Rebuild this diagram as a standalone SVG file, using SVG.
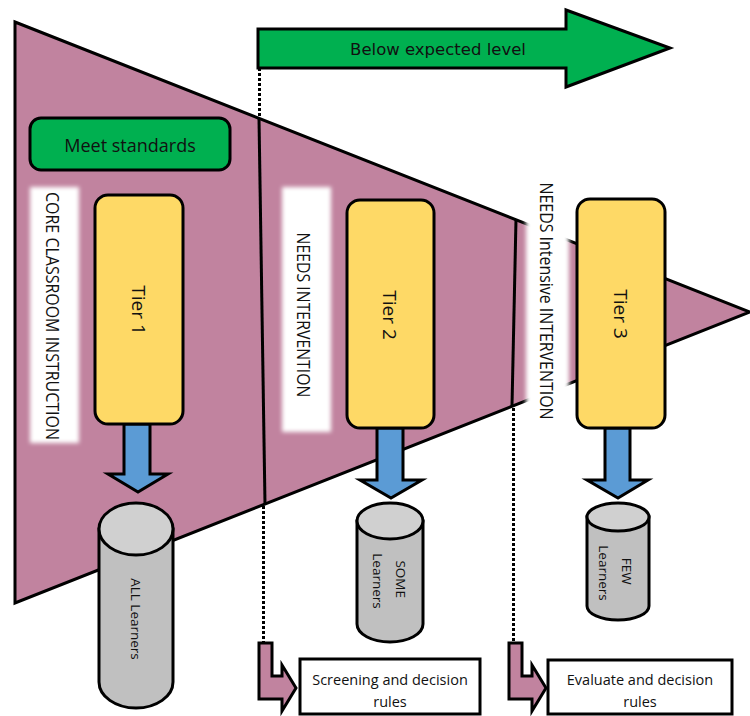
<svg xmlns="http://www.w3.org/2000/svg" width="750" height="716" viewBox="0 0 750 716">
  <style>
    .ln { stroke: #000; stroke-width: 3; stroke-linejoin: miter; }
    .dot { stroke: #000; stroke-width: 3; stroke-dasharray: 3 2; fill: none; }
    .pink { fill: #C1839F; }
    .green { fill: #00B050; }
    .tier { fill: #FED966; stroke: #000; stroke-width: 3; }
    .blue { fill: #5B9BD5; stroke: #000; stroke-width: 3; }
    .cylb { fill: #C0C0C0; stroke: #000; stroke-width: 3; }
    .cylt { fill: #D0D0D0; stroke: #000; stroke-width: 3; }
    .box { fill: #fff; stroke: #000; stroke-width: 3; }
    .t { font-family: "Open Sans", "Noto Sans", sans-serif; fill: #111; text-anchor: middle; dominant-baseline: central; }
    .dv { font-family: "DejaVu Sans", sans-serif; fill: #111; text-anchor: middle; dominant-baseline: central; }
  </style>
  <defs>
    <filter id="soft" x="-30%" y="-10%" width="160%" height="120%">
      <feGaussianBlur stdDeviation="2.2"/>
    </filter>
  </defs>

  <!-- funnel -->
  <g id="funnel">
    <polygon class="pink ln" points="15,22 750,312 15,603"/>
  </g>

  <!-- tier boundaries and dotted guides -->
  <g id="connectors">
    <line class="ln" x1="259" y1="118" x2="265" y2="504"/>
    <line class="ln" x1="516" y1="219" x2="512" y2="406"/>
    <line class="dot" x1="259.5" y1="68" x2="259.5" y2="118"/>
    <line class="dot" x1="263.5" y1="506" x2="263.5" y2="643"/>
    <line class="dot" x1="513.5" y1="408" x2="513.5" y2="643"/>
    <path class="pink ln" d="M259,643 H272 V676 H282 V665 L296,688 L282,711 V699 H259 Z"/>
    <path class="pink ln" d="M509,643 H522 V676 H532 V665 L546,688 L532,711 V699 H509 Z"/>
    <!-- down arrows -->
    <path class="blue" d="M124,424 H150 V474 H168 L138,492 L108,474 H124 Z"/>
    <path class="blue" d="M377,428 H403 V480 H422 L391,498 L360,480 H377 Z"/>
    <path class="blue" d="M605,428 H630 V480 H648 L618,498 L587,480 H605 Z"/>
  </g>

  <g id="below-level">
    <path class="green ln" d="M258,29 H566 V10 L670,48 L566,87 V68 H258 Z"/>
    <text class="dv" x="438" y="49" font-size="16.5">Below expected level</text>
  </g>

  <g id="meet-standards">
    <rect class="green ln" x="30" y="118" width="200" height="52" rx="11"/>
    <text class="t" x="130" y="145" font-size="18">Meet standards</text>
  </g>

  <g id="label-core">
    <rect x="30" y="187" width="49" height="256" fill="#fff" filter="url(#soft)"/>
    <text class="t" transform="translate(53,316) rotate(90)" font-size="19" textLength="248" lengthAdjust="spacingAndGlyphs">CORE CLASSROOM INSTRUCTION</text>
  </g>

  <g id="label-needs">
    <rect x="282" y="187" width="49" height="245" fill="#fff" filter="url(#soft)"/>
    <text class="t" transform="translate(304,315) rotate(90)" font-size="19" textLength="165" lengthAdjust="spacingAndGlyphs">NEEDS INTERVENTION</text>
  </g>

  <g id="label-intensive">
    <rect x="526" y="175" width="43" height="258" fill="#fff" filter="url(#soft)"/>
    <text class="t" transform="translate(547,301) rotate(90)" font-size="19" textLength="237" lengthAdjust="spacingAndGlyphs">NEEDS Intensive INTERVENTION</text>
  </g>

  <g id="tier1">
    <rect class="tier" x="95" y="195" width="88" height="229" rx="13"/>
    <text class="t" transform="translate(139,310) rotate(90)" font-size="19">Tier 1</text>
  </g>
  <g id="tier2">
    <rect class="tier" x="347" y="200" width="87" height="228" rx="13"/>
    <text class="t" transform="translate(390,315) rotate(90)" font-size="19">Tier 2</text>
  </g>
  <g id="tier3">
    <rect class="tier" x="577" y="199" width="88" height="229" rx="13"/>
    <text class="t" transform="translate(621,314) rotate(90)" font-size="19">Tier 3</text>
  </g>

  <g id="all-learners">
    <path class="cylb" d="M99,529 V682 A37,26 0 0 0 173,682 V529 Z"/>
    <ellipse class="cylt" cx="136" cy="529" rx="37" ry="26"/>
    <text class="t" transform="translate(136,619) rotate(90)" font-size="13.5">ALL Learners</text>
  </g>
  <g id="some-learners">
    <path class="cylb" d="M357,521 V624 A33,18 0 0 0 423,624 V521 Z"/>
    <ellipse class="cylt" cx="390" cy="521" rx="33" ry="18"/>
    <text class="t" transform="translate(390,581) rotate(90)" font-size="13.5">
      <tspan x="0" dy="-11">SOME</tspan>
      <tspan x="0" dy="23">Learners</tspan>
    </text>
  </g>
  <g id="few-learners">
    <path class="cylb" d="M587,517 V606 A31,14 0 0 0 649,606 V517 Z"/>
    <ellipse class="cylt" cx="618" cy="517" rx="31" ry="14"/>
    <text class="t" transform="translate(616,573) rotate(90)" font-size="13.5">
      <tspan x="0" dy="-11">FEW</tspan>
      <tspan x="0" dy="23">Learners</tspan>
    </text>
  </g>

  <g id="screening">
    <rect class="box" x="300" y="659" width="180" height="55"/>
    <text class="t" x="390" y="679" font-size="14.5">Screening and decision</text>
    <text class="t" x="390" y="701" font-size="14.5">rules</text>
  </g>
  <g id="evaluate">
    <rect class="box" x="548" y="660" width="184" height="54"/>
    <text class="t" x="640" y="679" font-size="14.5">Evaluate and decision</text>
    <text class="t" x="640" y="701" font-size="14.5">rules</text>
  </g>
</svg>
